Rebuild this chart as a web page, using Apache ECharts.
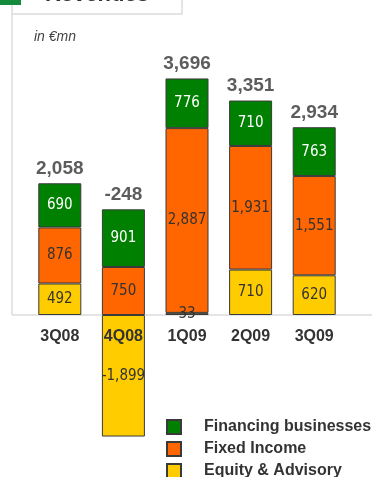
<!DOCTYPE html>
<html>
<head>
<meta charset="utf-8">
<script src="https://cdn.jsdelivr.net/npm/echarts@6/dist/echarts.min.js"></script>
<style>
  html, body { margin: 0; padding: 0; background: #fff; }
  #chart { width: 372px; height: 477px; }
</style>
</head>
<body>
<div id="chart"></div>
<script>
// Quarterly revenues by business line, in €mn
const categories = ['3Q08', '4Q08', '1Q09', '2Q09', '3Q09'];
const equityAdvisory = [492, -1899, 33, 710, 620];
const fixedIncome = [876, 750, 2887, 1931, 1551];
const financing = [690, 901, 776, 710, 763];

const seriesNames = ['Financing businesses', 'Fixed Income', 'Equity & Advisory'];
const yMin = -2000;
const yMax = 4000;

// Totals per quarter, and the top of each positive stack (where the total sits)
const parts = [equityAdvisory, fixedIncome, financing];
const totals = categories.map((_, i) => parts.reduce((s, p) => s + p[i], 0));
const stackTops = categories.map((_, i) => parts.reduce((s, p) => s + Math.max(0, p[i]), 0));

const fmt = v => v.toLocaleString('en-US');
const sansFont = 'Arial, "Liberation Sans", Helvetica, sans-serif';
const narrowFont = '"Liberation Sans Narrow", "Arial Narrow", "DejaVu Sans Condensed", sans-serif';
const border = '#3a3a3a';
const frameColor = '#dcdcdc';

function segment(name, values, color, textColor) {
  return {
    name: name,
    type: 'bar',
    stack: 'rev',
    barWidth: 43,
    data: values,
    itemStyle: { color: color, borderColor: border, borderWidth: 1 },
    label: {
      show: true,
      position: 'inside',
      formatter: p => fmt(p.value),
      color: textColor,
      fontFamily: narrowFont,
      fontSize: 15
    },
    emphasis: { disabled: true }
  };
}

const chart = echarts.init(document.getElementById('chart'), null, { renderer: 'canvas' });

chart.setOption({
  animation: false,
  backgroundColor: '#fff',
  grid: { left: 28, right: 26, top: 59, bottom: 34 },
  xAxis: {
    type: 'category',
    data: categories,
    z: 10,
    axisLine: { show: false, onZero: false },
    axisTick: { show: false },
    axisLabel: {
      margin: 14,
      color: '#333',
      fontFamily: sansFont,
      fontWeight: 'bold',
      fontSize: 16
    }
  },
  yAxis: {
    type: 'value',
    min: yMin,
    max: yMax,
    show: false,
    splitLine: { show: false }
  },
  legend: {
    orient: 'vertical',
    left: 166,
    top: 419,
    height: 80,
    padding: 0,
    itemWidth: 14,
    itemHeight: 14,
    itemGap: 6,
    icon: 'rect',
    data: seriesNames,
    textStyle: {
      color: '#333',
      fontFamily: sansFont,
      fontWeight: 'bold',
      fontSize: 16,
      padding: [0, 0, 0, 18]
    },
    selectedMode: false
  },
  series: [
    segment(seriesNames[2], equityAdvisory, '#ffcc00', '#333'),
    segment(seriesNames[1], fixedIncome, '#ff6600', '#333'),
    segment(seriesNames[0], financing, '#008000', '#fff'),
    {
      name: 'total',
      type: 'scatter',
      symbolSize: 0,
      data: stackTops,
      silent: true,
      label: {
        show: true,
        position: 'top',
        distance: 5,
        formatter: p => fmt(totals[p.dataIndex]),
        color: '#333',
        fontFamily: sansFont,
        fontWeight: 'bold',
        fontSize: 19
      }
    }
  ]
});

// Category labels sit on the zero line; the frame is drawn around the plot
const zeroY = chart.convertToPixel({ gridIndex: 0 }, [0, 0])[1];
const floorY = chart.convertToPixel({ gridIndex: 0 }, [0, yMin])[1];
chart.setOption({
  xAxis: { offset: zeroY - floorY },
  graphic: [
    {
      type: 'rect',
      shape: { x: 12, y: -12, width: 170, height: 26 },
      style: { fill: '#fff', stroke: frameColor, lineWidth: 1.5 },
      z: 1
    },
    {
      type: 'rect',
      shape: { x: 0, y: -12, width: 21, height: 17 },
      style: { fill: '#138a3c' },
      z: 2
    },
    {
      type: 'text',
      x: 97,
      y: -5,
      style: {
        text: 'Revenues',
        fill: '#333',
        font: 'bold 22px ' + sansFont,
        textAlign: 'center',
        textVerticalAlign: 'middle'
      },
      z: 3
    },
    {
      type: 'line',
      shape: { x1: 12, y1: 14, x2: 12, y2: zeroY },
      style: { stroke: frameColor, lineWidth: 1.5 },
      z: 0
    },
    {
      type: 'line',
      shape: { x1: 12, y1: zeroY, x2: 372, y2: zeroY },
      style: { stroke: frameColor, lineWidth: 1.5 },
      z: 0
    },
    {
      type: 'text',
      x: 34,
      y: 37,
      style: {
        text: 'in €mn',
        fill: '#444',
        font: 'italic 14px ' + sansFont,
        textAlign: 'left',
        textVerticalAlign: 'middle'
      }
    }
  ]
});
</script>
</body>
</html>
